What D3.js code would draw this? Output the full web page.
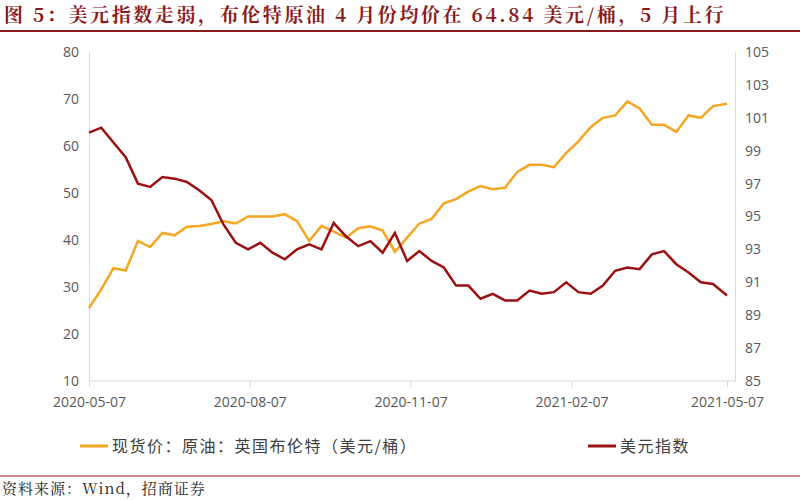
<!DOCTYPE html>
<html><head><meta charset="utf-8">
<script src="https://cdn.jsdelivr.net/npm/d3@7"></script>
<style>body{margin:0;background:#fff}</style>
</head><body><div id="chart"></div>
<script>
var dates = ["2020-05-07","2020-05-14","2020-05-21","2020-05-28","2020-06-04","2020-06-11","2020-06-18","2020-06-25","2020-07-02","2020-07-09","2020-07-16","2020-07-23","2020-07-30","2020-08-06","2020-08-13","2020-08-20","2020-08-27","2020-09-03","2020-09-10","2020-09-17","2020-09-24","2020-10-01","2020-10-08","2020-10-15","2020-10-22","2020-10-29","2020-11-05","2020-11-12","2020-11-19","2020-11-26","2020-12-03","2020-12-10","2020-12-17","2020-12-24","2020-12-31","2021-01-07","2021-01-14","2021-01-21","2021-01-28","2021-02-04","2021-02-11","2021-02-18","2021-02-25","2021-03-04","2021-03-11","2021-03-18","2021-03-25","2021-04-01","2021-04-08","2021-04-15","2021-04-22","2021-04-29","2021-05-07"];
var brent = [25.5,29.5,34,33.5,39.8,38.5,41.5,41,42.8,43,43.4,44,43.5,45,45,45,45.5,44,39.8,43,41.8,40.5,42.5,42.9,42,37.5,40.5,43.5,44.5,47.8,48.7,50.3,51.5,50.8,51.1,54.5,56,56,55.5,58.5,61,64,66,66.5,69.5,68,64.5,64.5,63,66.5,66,68.5,69];
var usd = [100.1,100.4,99.5,98.6,97.0,96.8,97.4,97.3,97.1,96.6,96.0,94.5,93.4,93.0,93.4,92.8,92.4,93.0,93.3,93.0,94.6,93.8,93.2,93.5,92.8,94.0,92.3,92.9,92.3,91.9,90.8,90.8,90.0,90.3,89.9,89.9,90.5,90.3,90.4,91.0,90.4,90.3,90.8,91.7,91.9,91.8,92.7,92.9,92.1,91.6,91.0,90.9,90.2];
var xTicks = ["2020-05-07","2020-08-07","2020-11-07","2021-02-07","2021-05-07"];
var leftTicks = [10,20,30,40,50,60,70,80];
var rightTicks = [85,87,89,91,93,95,97,99,101,103,105];

var W = 800, H = 500, red = "#8b1a1a";
var svg = d3.select("#chart").append("svg").attr("width", W).attr("height", H);
var parse = d3.timeParse("%Y-%m-%d");

var x = d3.scaleTime().domain([parse("2020-05-07"), parse("2021-05-07")]).range([89, 727]);
var yL = d3.scaleLinear().domain([10, 80]).range([381, 52]);
var yR = d3.scaleLinear().domain([85, 105]).range([381, 52]);

// title
svg.append("text").attr("x", 4).attr("y", 22)
  .style("font-family", "'Noto Serif CJK SC','Noto Sans CJK SC',serif").style("font-weight", "bold")
  .style("font-size", "19px").style("letter-spacing", "2.6px").style("fill", red)
  .text("图 5：美元指数走弱，布伦特原油 4 月份均价在 64.84 美元/桶，5 月上行");
svg.append("line").attr("x1", 0).attr("x2", W).attr("y1", 31).attr("y2", 31).style("stroke", red).style("stroke-width", 2);

var lab = function(s){ return s.style("font-family","'Open Sans','Noto Sans',sans-serif").style("font-size","14px").style("fill","#595959"); };

var gx = svg.append("g").attr("transform", "translate(0,381)")
  .call(d3.axisBottom(x).tickValues(xTicks.map(parse)).tickFormat(d3.timeFormat("%Y-%m-%d")).tickSize(6));
var gl = svg.append("g").attr("transform", "translate(89,0)")
  .call(d3.axisLeft(yL).tickValues(leftTicks).tickSize(0).tickPadding(10));
var gr = svg.append("g").attr("transform", "translate(735,0)")
  .call(d3.axisRight(yR).tickValues(rightTicks).tickSize(0).tickPadding(10));
[gx, gl, gr].forEach(function(g){
  g.selectAll("path,line").style("stroke", "#d9d9d9");
  lab(g.selectAll("text"));
});
gx.select(".domain").attr("d", "M89,0H735");
gx.selectAll("text").attr("dy", "1.2em");

var lineL = d3.line().x(function(d, i){ return x(parse(dates[i])); }).y(function(d){ return yL(d); });
var lineR = d3.line().x(function(d, i){ return x(parse(dates[i])); }).y(function(d){ return yR(d); });
svg.append("path").datum(brent).attr("d", lineL).style("fill", "none").style("stroke", "#f5a623").style("stroke-width", 2.5);
svg.append("path").datum(usd).attr("d", lineR).style("fill", "none").style("stroke", "#9b1111").style("stroke-width", 2.5);

// legend
var leg = [{t:"现货价：原油：英国布伦特（美元/桶）", c:"#f5a623", x:80}, {t:"美元指数", c:"#9b1111", x:588}];
leg.forEach(function(l){
  svg.append("line").attr("x1", l.x).attr("x2", l.x + 28).attr("y1", 446).attr("y2", 446).style("stroke", l.c).style("stroke-width", 3);
  svg.append("text").attr("x", l.x + 32).attr("y", 452).text(l.t)
    .style("font-family","'Noto Sans CJK SC',sans-serif").style("font-size","16px").style("letter-spacing","1.5px").style("fill","#404040");
});

svg.append("line").attr("x1", 0).attr("x2", W).attr("y1", 476).attr("y2", 476).style("stroke", red).style("stroke-width", 1);
svg.append("text").attr("x", 2).attr("y", 494).text("资料来源：Wind，招商证券")
  .style("font-family","'Noto Serif CJK SC','Noto Sans CJK SC',serif").style("font-size","15px").style("letter-spacing","1px").style("fill","#222");
</script></body></html>
